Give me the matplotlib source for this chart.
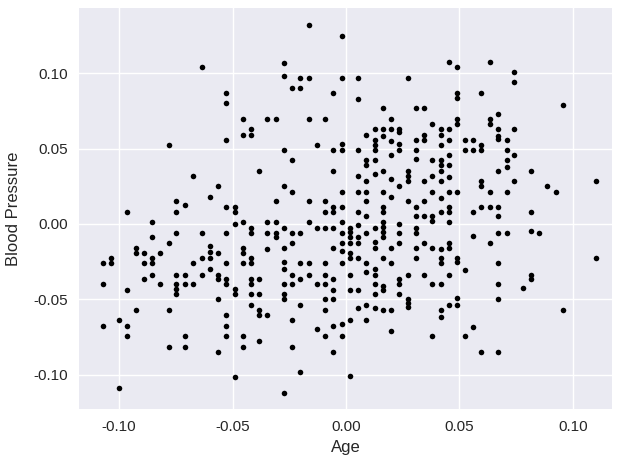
#import libraries
import numpy as np
import matplotlib
matplotlib.use("Agg")
import matplotlib.pyplot as plt

#values, one pair of lists for each part of the plot
age_upper_left = [-0.0636, -0.0527, -0.0527, -0.0455, -0.0418, -0.0418, -0.0455, -0.0527, -0.0782,
                  -0.0382, -0.0676, -0.0563, -0.0600, -0.0749, -0.0709, -0.0527, -0.0490]
bp_upper_left = [0.1042, 0.0869, 0.0803, 0.0695, 0.0628, 0.0591, 0.0591, 0.0558, 0.0527,
                 0.0354, 0.0319, 0.0250, 0.0179, 0.0150, 0.0128, 0.0113, 0.0113]

age_lower_left = [-0.0490, -0.0966, -0.0749, -0.0854, -0.0490, -0.0455, -0.0418, -0.0418, -0.0749, -0.0636,
                  -0.0527, -0.0854, -0.0782, -0.0600, -0.0926, -0.0455, -0.0455, -0.0926, -0.0890, -0.0818,
                  -0.0600, -0.0600, -0.0563, -0.0636, -0.1036, -0.0854, -0.0418, -0.1072, -0.1036, -0.0890,
                  -0.0854, -0.0676, -0.0527, -0.0455, -0.0418, -0.0600, -0.0854, -0.0890, -0.0749, -0.0709,
                  -0.0636, -0.0563, -0.0563, -0.0527, -0.0527, -0.0418, -0.0382, -0.0418, -0.1072, -0.0818,
                  -0.0749, -0.0709, -0.0676, -0.0749, -0.0749, -0.0966, -0.0490, -0.0490, -0.0418, -0.0382,
                  -0.0563, -0.0418, -0.0926, -0.0782, -0.0382, -0.0382, -0.0527, -0.1000, -0.1072, -0.0966,
                  -0.0527, -0.0966, -0.0709, -0.0527, -0.0455, -0.0382, -0.0782, -0.0709, -0.0455, -0.0563,
                  -0.0490, -0.1000]
bp_lower_left = [0.0080, 0.0080, 0.0080, 0.0013, 0.0000, 0.0013, -0.0024, -0.0060, -0.0060, -0.0060,
                 -0.0060, -0.0088, -0.0126, -0.0146, -0.0159, -0.0159, -0.0192, -0.0195, -0.0195, -0.0195,
                 -0.0188, -0.0226, -0.0195, -0.0226, -0.0226, -0.0226, -0.0226, -0.0261, -0.0261, -0.0261,
                 -0.0261, -0.0261, -0.0261, -0.0261, -0.0261, -0.0299, -0.0336, -0.0365, -0.0336, -0.0336,
                 -0.0336, -0.0336, -0.0365, -0.0365, -0.0398, -0.0365, -0.0365, -0.0398, -0.0400, -0.0400,
                 -0.0400, -0.0400, -0.0400, -0.0431, -0.0465, -0.0436, -0.0431, -0.0465, -0.0465, -0.0465,
                 -0.0500, -0.0538, -0.0573, -0.0573, -0.0573, -0.0604, -0.0604, -0.0639, -0.0675, -0.0675,
                 -0.0675, -0.0741, -0.0741, -0.0741, -0.0741, -0.0777, -0.0814, -0.0814, -0.0814, -0.0850,
                 -0.1018, -0.1088]

age_upper_mid = [-0.0164, -0.0019, -0.0273, -0.0273, -0.0201, -0.0164, -0.0019, 0.0053, 0.0272, -0.0237,
                 -0.0201, -0.0056, 0.0053, 0.0163, 0.0308, 0.0344, -0.0346, -0.0310, -0.0164, -0.0092,
                 0.0199, 0.0381, 0.0126, 0.0163, 0.0199, 0.0235, 0.0235, 0.0417, 0.0417, 0.0090,
                 0.0163, 0.0344, 0.0344, 0.0308, 0.0126, 0.0126, 0.0126, 0.0199, 0.0235, 0.0235,
                 -0.0128, -0.0019, -0.0019, -0.0056, -0.0273, 0.0053, 0.0308, 0.0417, -0.0237, 0.0090,
                 0.0090, 0.0126, 0.0199, 0.0308, 0.0381, 0.0417, 0.0417, 0.0417, -0.0056, 0.0163,
                 0.0272, 0.0272, 0.0272, 0.0126, 0.0053, 0.0090, 0.0199, 0.0344, 0.0381, 0.0417,
                 -0.0273, 0.0235, -0.0237, -0.0019, 0.0053, 0.0090, 0.0163, 0.0381, 0.0199, 0.0417,
                 -0.0310, -0.0164, -0.0092, 0.0090, 0.0272, 0.0344, -0.0056, -0.0019, 0.0163, 0.0308]
bp_upper_mid = [0.1319, 0.1246, 0.1071, 0.0985, 0.0971, 0.0971, 0.0971, 0.0971, 0.0971, 0.0905,
                0.0905, 0.0869, 0.0832, 0.0768, 0.0768, 0.0768, 0.0695, 0.0695, 0.0695, 0.0695,
                0.0695, 0.0666, 0.0628, 0.0628, 0.0628, 0.0628, 0.0613, 0.0628, 0.0591, 0.0593,
                0.0584, 0.0593, 0.0558, 0.0558, 0.0558, 0.0527, 0.0491, 0.0549, 0.0529, 0.0491,
                0.0527, 0.0529, 0.0491, 0.0491, 0.0491, 0.0491, 0.0491, 0.0527, 0.0425, 0.0425,
                0.0392, 0.0425, 0.0456, 0.0434, 0.0425, 0.0425, 0.0392, 0.0354, 0.0354, 0.0354,
                0.0354, 0.0321, 0.0288, 0.0332, 0.0319, 0.0288, 0.0296, 0.0288, 0.0319, 0.0288,
                0.0252, 0.0252, 0.0215, 0.0215, 0.0215, 0.0215, 0.0215, 0.0215, 0.0179, 0.0170,
                0.0150, 0.0150, 0.0150, 0.0150, 0.0150, 0.0150, 0.0113, 0.0113, 0.0113, 0.0113]

age_lower_mid = [-0.0092, -0.0056, 0.0053, 0.0163, 0.0417, 0.0090, 0.0308, 0.0344, 0.0381, 0.0381,
                 -0.0346, -0.0310, -0.0164, -0.0019, 0.0163, 0.0163, 0.0163, 0.0163, 0.0235, 0.0053,
                 -0.0273, -0.0128, -0.0092, -0.0056, 0.0016, 0.0126, 0.0308, 0.0308, 0.0016, 0.0016,
                 0.0016, -0.0346, -0.0310, -0.0310, -0.0237, -0.0201, -0.0019, 0.0090, 0.0235, 0.0053,
                 0.0053, -0.0019, -0.0237, 0.0126, 0.0235, 0.0344, -0.0346, -0.0273, -0.0056, 0.0126,
                 0.0199, 0.0308, 0.0381, 0.0417, -0.0019, 0.0016, 0.0016, 0.0053, 0.0163, 0.0308,
                 0.0417, 0.0417, -0.0273, -0.0273, -0.0201, -0.0164, -0.0092, -0.0019, 0.0090, 0.0199,
                 0.0126, 0.0126, 0.0090, -0.0237, -0.0164, -0.0092, 0.0016, 0.0272, 0.0344, -0.0201,
                 -0.0056, 0.0235, 0.0235, -0.0273, -0.0237, -0.0128, -0.0092, 0.0126, 0.0163, 0.0163,
                 0.0381, 0.0417, -0.0056, 0.0016, 0.0053, -0.0273, -0.0273, 0.0126, 0.0235, -0.0092,
                 -0.0056, 0.0272, 0.0272, 0.0272, -0.0201, 0.0090, 0.0053, 0.0126, 0.0163, 0.0199,
                 -0.0092, 0.0417, 0.0417, -0.0346, -0.0237, 0.0016, 0.0090, -0.0019, -0.0056, -0.0128,
                 0.0199, -0.0092, -0.0019, 0.0381, -0.0237, -0.0056, -0.0201, 0.0016, -0.0273]
bp_lower_mid = [0.0080, 0.0080, 0.0080, 0.0080, 0.0080, 0.0051, 0.0051, 0.0051, 0.0051, 0.0020,
                0.0013, 0.0013, 0.0013, 0.0013, 0.0013, -0.0020, -0.0053, -0.0088, 0.0000, -0.0007,
                -0.0024, -0.0024, -0.0024, -0.0024, -0.0024, -0.0024, -0.0024, -0.0060, -0.0053, -0.0088,
                -0.0124, -0.0060, -0.0060, -0.0088, -0.0060, -0.0060, -0.0060, -0.0060, -0.0060, -0.0088,
                -0.0124, -0.0124, -0.0124, -0.0117, -0.0124, -0.0124, -0.0166, -0.0159, -0.0159, -0.0159,
                -0.0159, -0.0159, -0.0159, -0.0166, -0.0181, -0.0192, -0.0226, -0.0226, -0.0226, -0.0226,
                -0.0226, -0.0261, -0.0254, -0.0299, -0.0261, -0.0261, -0.0261, -0.0261, -0.0261, -0.0261,
                -0.0299, -0.0336, -0.0319, -0.0336, -0.0336, -0.0336, -0.0336, -0.0336, -0.0336, -0.0365,
                -0.0365, -0.0365, -0.0400, -0.0400, -0.0400, -0.0400, -0.0400, -0.0400, -0.0414, -0.0436,
                -0.0400, -0.0400, -0.0436, -0.0436, -0.0436, -0.0465, -0.0500, -0.0465, -0.0465, -0.0500,
                -0.0500, -0.0500, -0.0524, -0.0551, -0.0538, -0.0538, -0.0560, -0.0560, -0.0573, -0.0573,
                -0.0573, -0.0573, -0.0617, -0.0604, -0.0639, -0.0639, -0.0639, -0.0662, -0.0675, -0.0697,
                -0.0712, -0.0741, -0.0741, -0.0741, -0.0814, -0.0850, -0.0980, -0.1009, -0.1119]

age_right = [0.0453, 0.0490, 0.0635, 0.0743, 0.0743, 0.0490, 0.0490, 0.0597, 0.0959, 0.0671,
             0.0490, 0.0490, 0.0635, 0.0635, 0.0453, 0.0671, 0.0743, 0.0671, 0.0671, 0.0453,
             0.0525, 0.0562, 0.0708, 0.0597, 0.0597, 0.0525, 0.0562, 0.0708, 0.0453, 0.0743,
             0.0708, 0.0453, 0.0708, 0.0671, 0.0815, 0.0453, 0.0597, 0.0597, 0.0743, 0.1104,
             0.0887, 0.0925, 0.0453, 0.0490, 0.0635, 0.0708, 0.0453, 0.0597, 0.0635, 0.0671,
             0.0453, 0.0562, 0.0671, 0.0815, 0.0453, 0.0562, 0.0671, 0.0708, 0.0815, 0.0852,
             0.0635, 0.0453, 0.0453, 0.0490, 0.0490, 0.0671, 0.1104, 0.0525, 0.0453, 0.0815,
             0.0815, 0.0671, 0.0779, 0.0490, 0.0671, 0.0453, 0.0490, 0.0959, 0.0562, 0.0525,
             0.0597, 0.0671]
bp_right = [0.1073, 0.1042, 0.1073, 0.1007, 0.0940, 0.0869, 0.0834, 0.0869, 0.0788, 0.0730,
            0.0695, 0.0664, 0.0695, 0.0666, 0.0628, 0.0628, 0.0628, 0.0584, 0.0566, 0.0558,
            0.0558, 0.0558, 0.0558, 0.0527, 0.0491, 0.0491, 0.0491, 0.0491, 0.0456, 0.0456,
            0.0425, 0.0392, 0.0376, 0.0354, 0.0354, 0.0310, 0.0288, 0.0252, 0.0288, 0.0288,
            0.0252, 0.0215, 0.0215, 0.0215, 0.0215, 0.0215, 0.0113, 0.0113, 0.0113, 0.0113,
            0.0080, 0.0080, 0.0051, 0.0080, 0.0013, -0.0080, -0.0060, -0.0060, -0.0044, -0.0060,
            -0.0124, -0.0124, -0.0159, -0.0226, -0.0254, -0.0261, -0.0226, -0.0305, -0.0336, -0.0336,
            -0.0365, -0.0400, -0.0423, -0.0493, -0.0500, -0.0538, -0.0538, -0.0573, -0.0684, -0.0741,
            -0.0850, -0.0850]

age = np.concatenate([age_upper_left, age_lower_left, age_upper_mid, age_lower_mid, age_right])
blood_pressure = np.concatenate([bp_upper_left, bp_lower_left, bp_upper_mid, bp_lower_mid, bp_right])

x_ticks = [-0.10, -0.05, 0.00, 0.05, 0.10]
y_ticks = [-0.10, -0.05, 0.00, 0.05, 0.10]

plt.rcParams['font.family'] = ['Liberation Sans', 'DejaVu Sans']

fig = plt.figure(figsize=(6.26, 4.61), dpi=100)
ax = fig.add_axes([79 / 626, 1 - 409 / 461, 533 / 626, 401 / 461])
ax.set_facecolor('#EAEAF2')
ax.grid(True, color='white', linewidth=1.0)
ax.set_axisbelow(True)
for side in ax.spines.values():
    side.set_visible(False)

#scatter plot of age against blood pressure
ax.scatter(age, blood_pressure, color='black', s=16, linewidths=0)

ax.set_xlim(-0.1177, 0.1173)
ax.set_ylim(-0.1228, 0.1433)
ax.set_xticks(x_ticks)
ax.set_yticks(y_ticks)
ax.set_xticklabels(['%.2f' % t for t in x_ticks])
ax.set_yticklabels(['%.2f' % t for t in y_ticks])
ax.tick_params(length=0, labelsize=11, labelcolor='#262626', pad=8)
ax.set_xlabel('Age', fontsize=12, color='#262626', labelpad=4)
ax.set_ylabel('Blood Pressure', fontsize=12, color='#262626', labelpad=9)

plt.savefig('out.png', dpi=100)
